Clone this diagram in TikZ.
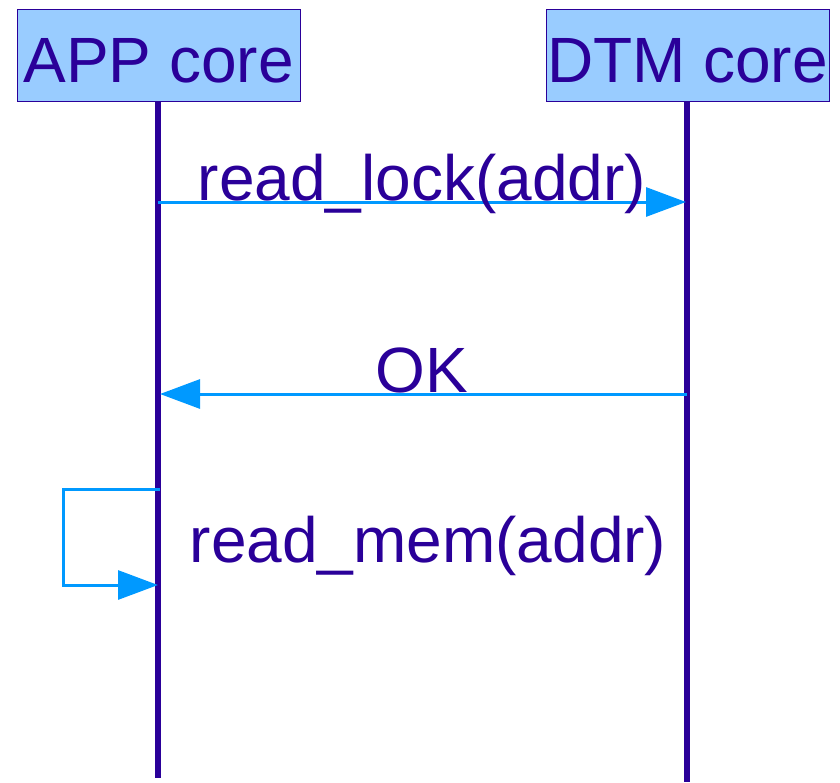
\documentclass[tikz,border=0pt]{standalone}
\usepackage{fontspec}
\setmainfont{Liberation Sans}
\usetikzlibrary{arrows.meta}
\definecolor{ink}{HTML}{2A0099}
\definecolor{boxfill}{HTML}{99CCFF}
\definecolor{msgblue}{HTML}{0099FF}
\begin{document}
\begin{tikzpicture}[x=1pt,y=-1pt]
\tikzset{header/.style={draw=ink,line width=1pt,fill=boxfill,text=ink,
  minimum width=283pt,minimum height=92pt,inner sep=0pt,
  text height=54pt,text depth=0pt,font=\fontsize{64}{70}\selectfont}}
\tikzset{lifeline/.style={draw=ink,line width=6pt}}
\tikzset{msg/.style={draw=msgblue,line width=3pt,-{Triangle[length=40pt,width=29pt]}}}
\tikzset{msglabel/.style={text=ink,inner sep=0pt,anchor=base,font=\fontsize{64}{70}\selectfont}}
\useasboundingbox (0,0) rectangle (840,782);
% lifelines
\coordinate (appEnd) at (158,778);
\coordinate (dtmEnd) at (687,782);
\draw[lifeline] (158,101) -- (appEnd);
\draw[lifeline] (687,101) -- (dtmEnd);
\node[header] (app) at (158.5,55) {APP core};
\node[header] (dtm) at (687.5,55) {DTM core};
% messages
\coordinate (lockFrom) at (158,202);
\coordinate (lockTo) at (686,202);
\coordinate (okFrom) at (687,394);
\coordinate (okTo) at (160,394);
\coordinate (memFrom) at (160,489);
\coordinate (memTo) at (158,585);
\draw[msg] (lockFrom) -- (lockTo);
\node[msglabel] (lock) at (422,200) {read\_lock(addr)};
\draw[msg] (okFrom) -- (okTo);
\node[msglabel] (ok) at (422,392) {OK};
\draw[msg] (memFrom) -- (63,489) -- (63,585) -- (memTo);
\node[msglabel] (mem) at (428,562) {read\_mem(addr)};
\end{tikzpicture}
\end{document}
